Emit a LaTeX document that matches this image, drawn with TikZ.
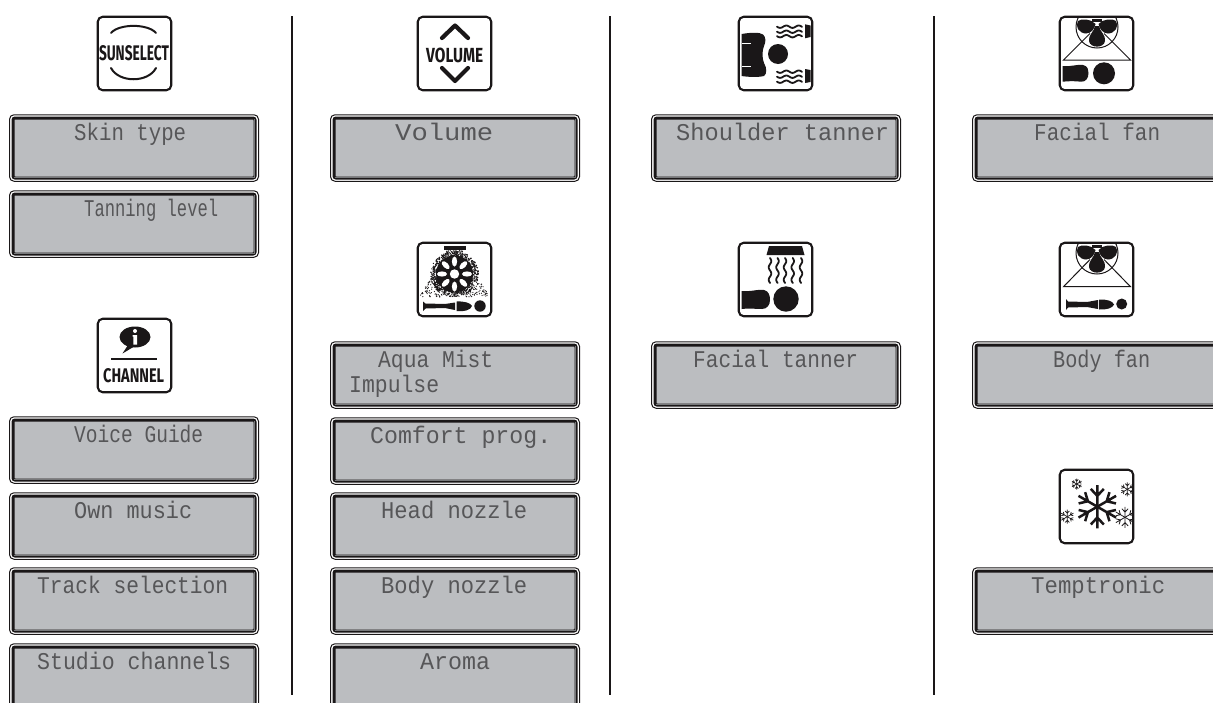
\documentclass[tikz,border=0pt]{standalone}
\usepackage{graphicx}
\usepackage{fontspec}
\setmainfont{Liberation Mono}
\newfontfamily\iconfont{Fira Sans}
\usetikzlibrary{calc}
\definecolor{lcdgray}{HTML}{BBBDC0}
\definecolor{lcdink}{HTML}{565658}
\definecolor{lcdshadow}{HTML}{77787A}
\definecolor{inkblack}{HTML}{1A1718}
\tikzset{
  lcdouter/.style={draw=inkblack,fill=white,line width=1pt,rounded corners=4.5pt,minimum width=249pt,minimum height=66.5pt,inner sep=0},
  lcdinner/.style={draw=inkblack,fill=lcdgray,line width=3pt,rounded corners=2pt,minimum width=242pt,minimum height=60pt,inner sep=0},
  lcdshade/.style={draw=lcdshadow,line width=1.2pt},
  lcdlabel/.style={text=lcdink,inner sep=0,anchor=base west,font=\fontsize{24}{24}\selectfont},
  iconframe/.style={draw=inkblack,fill=white,line width=2.1pt,rounded corners=5pt,minimum width=73.5pt,minimum height=73.5pt,inner sep=0},
  iconword/.style={text=inkblack,inner sep=0,anchor=base west,font=\iconfont\bfseries\fontsize{18}{18}\selectfont},
  divider/.style={draw=inkblack,line width=1.7pt},
  inkline/.style={draw=inkblack,line width=#1,line cap=round,line join=round},
  inkfill/.style={fill=inkblack},
  thinray/.style={draw=inkblack,line width=1pt},
}
% name, left, top
\newcommand\lcdbox[3]{%
  \node[lcdouter] (#1o) at (#2+124.5,#3+33.5) {};
  \node[lcdinner] (#1) at (#1o.center) {};
  \draw[lcdshade] ([xshift=2pt,yshift=2pt]#1.south west) -- ([xshift=-2pt,yshift=2pt]#1.south east) -- ([xshift=-2pt,yshift=-2pt]#1.north east);
}
% name, left, baseline, width, text
\newcommand\lcdtext[5]{\node[lcdlabel] (#1) at (#2,#3) {\resizebox{#4pt}{\height}{#5}};}
% name,left,top : icon frame
\newcommand\iconbox[3]{\node[iconframe] (#1) at (#2+37.5,#3+37.5) {};}
% cx, cy, r, lw
\newcommand\flake[4]{%
  \begin{scope}[shift={(#1,#2)}]
    \foreach \a in {30,90,...,330}{
      \draw[draw=inkblack,line width=#4pt,rotate=\a]
        (0,0) -- (#3,0)
        (#3*0.5,0) -- (#3*0.82,#3*0.3)
        (#3*0.5,0) -- (#3*0.82,-#3*0.3);
    }
  \end{scope}}
% x0, y, length : horizontal wave
\newcommand\hwave[3]{\draw[inkline=1.8pt] plot[domain=0:#3,samples=26,smooth] ({#1+\x},{#2+1.2*sin(\x*29)});}
% x, y0, length : vertical wave
\newcommand\vwave[3]{\draw[inkline=1.8pt] plot[domain=0:#3,samples=26,smooth] ({#1+1.3*sin(\x*29)},{#2+\x});}
% fan with triangle, base y
\newcommand\fanicon[1]{%
  \begin{scope}
    \clip (1,2.5) rectangle (74,74);
    \draw[thinray] (38,11) circle (21);
  \end{scope}
  \fill[inkfill] (36.5,8) .. controls (32,2.5) and (22,2.5) .. (19,5) .. controls (15.5,10) and (20,17.5) .. (27,17.5) .. controls (32,17.5) and (35.5,13) .. (36.5,8) -- cycle;
  \fill[inkfill] (39.5,8) .. controls (44,2.5) and (54,2.5) .. (57,5) .. controls (60.5,10) and (56,17.5) .. (49,17.5) .. controls (44,17.5) and (40.5,13) .. (39.5,8) -- cycle;
  \fill[inkfill] (36,10) -- (40,10) .. controls (41,16) and (47,19) .. (46,25) .. controls (45,32.5) and (31,32.5) .. (30,25) .. controls (29,19) and (35,16) .. (36,10) -- cycle;
  \fill[inkfill] (33,3) rectangle (43,6);
  \draw[thinray] (31,17.5) -- (4.5,#1) -- (71.5,#1) -- (45,17.5);
}
\begin{document}
\begin{tikzpicture}[x=1pt,y=-1pt]
\clip (0,0) rectangle (1213,702);
\fill[white] (0,0) rectangle (1213,702);

% dividers
\coordinate (d1a) at (292,16); \coordinate (d1b) at (292,695);
\coordinate (d2a) at (610,16); \coordinate (d2b) at (610,695);
\coordinate (d3a) at (934,16); \coordinate (d3b) at (934,695);
\draw[divider] (d1a) -- (d1b);
\draw[divider] (d2a) -- (d2b);
\draw[divider] (d3a) -- (d3b);

% LCD panels, column 1
\lcdbox{a1}{9.5}{114.5}\lcdtext{ta1}{74}{140}{112}{Skin type}
\lcdbox{a2}{9.5}{190.5}\lcdtext{ta2}{84}{216}{134}{Tanning level}
\lcdbox{a3}{9.5}{416.5}\lcdtext{ta3}{74}{442}{129}{Voice Guide}
\lcdbox{a4}{9.5}{492.5}\lcdtext{ta4}{74}{518}{118}{Own music}
\lcdbox{a5}{9.5}{567.5}\lcdtext{ta5}{37}{593}{191}{Track selection}
\lcdbox{a6}{9.5}{643.5}\lcdtext{ta6}{37}{669}{194}{Studio channels}
% column 2
\lcdbox{b1}{330.5}{114.5}\lcdtext{tb1}{395}{140}{98}{Volume}
\lcdbox{b2}{330.5}{341.5}\lcdtext{tb2}{378}{367}{115}{Aqua Mist}\lcdtext{tb2x}{349}{392}{90}{Impulse}
\lcdbox{b3}{330.5}{417.5}\lcdtext{tb3}{370}{443}{181}{Comfort prog.}
\lcdbox{b4}{330.5}{492.5}\lcdtext{tb4}{381}{518}{146}{Head nozzle}
\lcdbox{b5}{330.5}{567.5}\lcdtext{tb5}{381}{593}{146}{Body nozzle}
\lcdbox{b6}{330.5}{643.5}\lcdtext{tb6}{420}{669}{70}{Aroma}
% column 3
\lcdbox{c1}{651.5}{114.5}\lcdtext{tc1}{676}{140}{213}{Shoulder tanner}
\lcdbox{c2}{651.5}{341.5}\lcdtext{tc2}{693}{367}{165}{Facial tanner}
% column 4
\lcdbox{d1}{972.5}{114.5}\lcdtext{td1}{1034}{140}{126}{Facial fan}
\lcdbox{d2}{972.5}{341.5}\lcdtext{td2}{1053}{367}{97}{Body fan}
\lcdbox{d3}{972.5}{567.5}\lcdtext{td3}{1031}{593}{134}{Temptronic}

% icon frames
\iconbox{sunselect}{97}{16}
\iconbox{channel}{97}{318}
\iconbox{volume}{417}{16}
\iconbox{aqua}{417}{242}
\iconbox{shoulder}{738}{16}
\iconbox{facial}{738}{242}
\iconbox{facefan}{1059}{16}
\iconbox{bodyfan}{1059}{242}
\iconbox{temp}{1059}{469}

% SUNSELECT
\begin{scope}[shift={(97,16)}]
  \draw[inkline=2pt] (14,17) .. controls (22,7.5) and (51,7.5) .. (59,17);
  \draw[inkline=2pt] (14,52) .. controls (22,67) and (51,67) .. (59,52);
  \node[iconword] (sunword) at (1.8,44.3) {\resizebox{70pt}{15pt}{SUNSELECT}};
\end{scope}

% CHANNEL
\begin{scope}[shift={(97,318)}]
  \fill[inkfill] (38,19) ellipse (15.5 and 10.5);
  \fill[inkfill] (31,27) -- (25.5,35.5) -- (38,28) -- cycle;
  \fill[white] (38,13) circle (2);
  \fill[white] (35.6,17) -- (40,17) -- (40,26.5) -- (36.3,26.5) -- (36.3,18.5) -- (35.6,18.5) -- cycle;
  \draw[draw=inkblack,line width=1.8pt] (14,41) -- (60,41);
  \node[iconword] (chanword) at (6,64.5) {\resizebox{61pt}{14pt}{CHANNEL}};
\end{scope}

% VOLUME
\begin{scope}[shift={(417,16)}]
  \draw[inkline=4.2pt] (25,22) -- (38,9.5) -- (51,22);
  \draw[inkline=4.2pt] (25,52) -- (38,65) -- (51,52);
  \node[iconword] (volword) at (9,46) {\resizebox{57pt}{14.5pt}{VOLUME}};
\end{scope}

% AQUA MIST
\begin{scope}[shift={(417,242)}]
  \fill[inkfill] (27,4) rectangle (49,8);
  \pgfmathsetseed{11}
  \foreach \i in {1,...,650}{
    \pgfmathsetmacro\pu{rnd}
    \pgfmathsetmacro\pv{rnd}
    \pgfmathsetmacro\py{8+47*pow(\pu,0.8)}
    \pgfmathsetmacro\hw{7+(\py-8)*0.6}
    \pgfmathsetmacro\px{37.5+(2*\pv-1)*\hw}
    \fill[inkblack] (\px,\py) circle (0.62);
  }
  \foreach \i in {1,...,700}{
    \pgfmathsetmacro\pr{15+9*rnd}
    \pgfmathsetmacro\pa{360*rnd}
    \fill[inkblack] ({37.5+\pr*cos(\pa)},{32+\pr*sin(\pa)*0.95}) circle (0.7);
  }
  \fill[inkfill] (37.5,32) circle (18.5);
  \foreach \a in {0,45,...,315}{
    \fill[white,shift={(37.5,32)},rotate=\a] (0,-12.5) ellipse (2.6 and 5);
  }
  \fill[white] (37.5,32) circle (4.7);
  \fill[inkfill] (6,59.5) -- (8.5,61.5) -- (28,62) -- (38,60.5) -- (38,68) -- (28,66) -- (8.5,66.5) -- (6,69) -- cycle;
  \fill[inkfill] (39.5,59.5) .. controls (47,59) and (54,61) .. (55,64) .. controls (54,68) and (47,70) .. (39.5,69) -- cycle;
  \fill[inkfill] (63,64) circle (5.7);
\end{scope}

% SHOULDER TANNER
\begin{scope}[shift={(738,16)}]
  \fill[inkfill] (3.7,18) .. controls (12,16.5) and (22,16) .. (25,18.5) .. controls (28,21) and (28,26) .. (26,30) .. controls (24,35) and (24,42) .. (26,47) .. controls (29,52) and (29,58) .. (26,60) .. controls (20,61.5) and (10,61) .. (3.7,60) -- cycle;
  \fill[white] (3.7,26.5) rectangle (12.7,28);
  \fill[white] (3.7,49.5) rectangle (12.7,51);
  \fill[inkfill] (40,38) circle (10);
  \foreach \yy in {10.7,15.7,20.2,55.7,60.7,65.7}{\hwave{39}{\yy}{25}}
  \fill[inkfill] (67,8.3) -- (72.5,9.5) -- (72.5,21) -- (67,22.3) -- cycle;
  \fill[inkfill] (67,53) -- (72.5,54) -- (72.5,66) -- (67,67) -- cycle;
\end{scope}

% FACIAL TANNER
\begin{scope}[shift={(738,242)}]
  \fill[inkfill] (31,4) -- (64,4) -- (66.5,13) -- (28.5,13) -- cycle;
  \foreach \xx in {32,39.5,47,54.7,63}{\vwave{\xx}{16}{25}}
  \fill[inkfill] (3.7,49) .. controls (12,50) and (20,47) .. (26,48) .. controls (31,49) and (32,54) .. (32,58) .. controls (32,63) and (29,67) .. (24,67) .. controls (18,67) and (10,66) .. (3.7,67) -- cycle;
  \fill[inkfill] (48,57) circle (12.7);
\end{scope}

% FACIAL FAN
\begin{scope}[shift={(1059,16)}]
  \fanicon{44}
  \fill[inkfill] (3.7,50) .. controls (12,51) and (18,48) .. (24,49) .. controls (29,50) and (29.5,54) .. (29.5,57) .. controls (29.5,62) and (27,66) .. (22,65.7) .. controls (16,65) and (10,65) .. (3.7,65.7) -- cycle;
  \fill[inkfill] (45,57.3) circle (11);
\end{scope}

% BODY FAN
\begin{scope}[shift={(1059,242)}]
  \fanicon{44.7}
  \fill[inkfill] (7,57) -- (9,59.5) -- (28,60) -- (39,58) -- (39,67) -- (28,65) -- (9,65.5) -- (7,68) -- cycle;
  \fill[inkfill] (40,57.5) .. controls (47,57) and (54,59) .. (55,62.5) .. controls (54,66) and (47,68) .. (40,67.5) -- cycle;
  \fill[inkfill] (62.7,62) circle (5.5);
\end{scope}

% TEMPTRONIC
\begin{scope}[shift={(1059,469)}]
  \flake{38.3}{37.7}{21.7}{2.5}
  \flake{17.7}{15}{5.5}{.7}
  \begin{scope}
    \clip (1,1) rectangle (73.5,73);
    \flake{68.3}{20.3}{7}{.7}
    \flake{8.3}{47.7}{7}{.7}
    \flake{66}{48.3}{10.5}{.8}
  \end{scope}
\end{scope}

\end{tikzpicture}
\end{document}
